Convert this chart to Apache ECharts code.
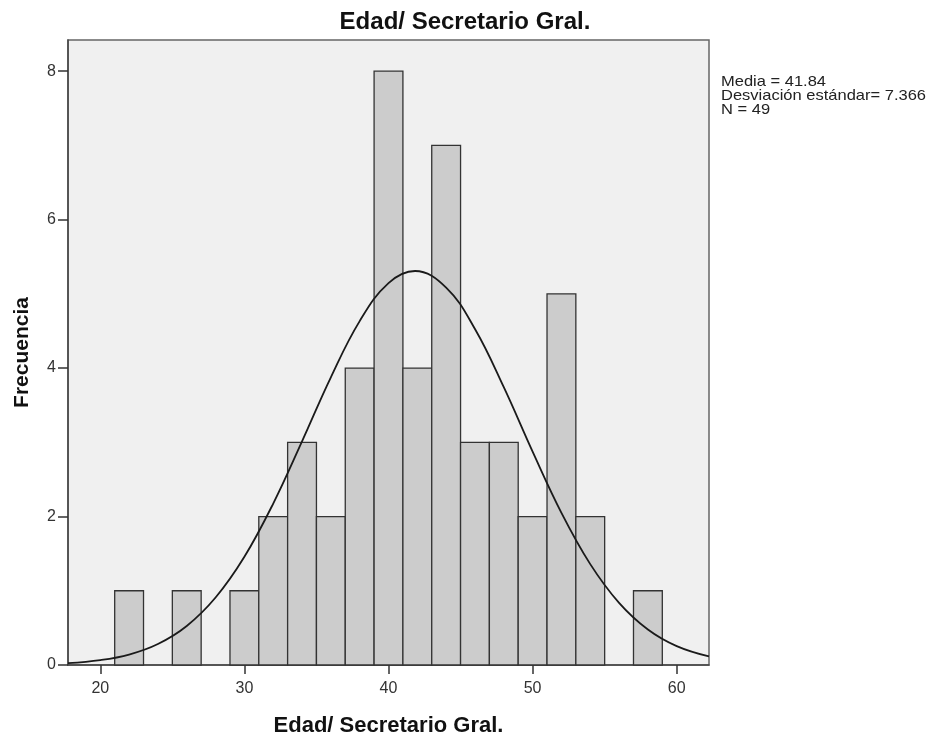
<!DOCTYPE html>
<html><head><meta charset="utf-8">
<script src="https://cdn.jsdelivr.net/npm/echarts@6/dist/echarts.min.js"></script>
<style>html,body{margin:0;padding:0;background:#fff}#c{width:930px;height:734px}</style>
</head><body><div id="c"></div>
<script>
// Histogram bins (start, end) and frequencies
var binStarts = [21, 25, 29, 31, 33, 35, 37, 39, 41, 43, 45, 47, 49, 51, 53, 57];
var binEnds   = [23, 27, 31, 33, 35, 37, 39, 41, 43, 45, 47, 49, 51, 53, 55, 59];
var counts    = [1, 1, 1, 2, 3, 2, 4, 8, 4, 7, 3, 3, 2, 5, 2, 1];
// Normal curve
var curveX = [17.76, 20, 22, 24, 26, 28, 30, 32, 34, 36, 38, 40, 41.84, 44, 46, 48, 50, 52, 54, 56, 58, 60, 62.24];
var curveY = [0.025, 0.066, 0.141, 0.283, 0.526, 0.909, 1.458, 2.175, 3.013, 3.876, 4.633, 5.145, 5.308, 5.085, 4.526, 3.742, 2.874, 2.050, 1.359, 0.837, 0.478, 0.254, 0.115];
var xTicks = [20, 30, 40, 50, 60];
var yTicks = [0, 2, 4, 6, 8];
var statsLines = ['Media = 41.84', 'Desviación estándar= 7.366', 'N = 49'];
var titleText = 'Edad/ Secretario Gral.';
var xName = 'Edad/ Secretario Gral.';
var yName = 'Frecuencia';

var barData = binStarts.map(function (s, i) { return [s, binEnds[i], counts[i]]; });
var lineData = curveX.map(function (x, i) { return [x, curveY[i]]; });

var chart = echarts.init(document.getElementById('c'), null, {renderer: 'canvas'});
var font = 'Arial, "Liberation Sans", sans-serif';
chart.setOption({
  animation: false,
  backgroundColor: '#ffffff',
  title: {
    text: titleText, left: 'center', top: 5,
    textStyle: {fontFamily: font, fontSize: 24, fontWeight: 'bold', color: '#111'}
  },
  grid: {
    left: 68, top: 40, right: 221, bottom: 69,
    containLabel: false, outerBoundsMode: 'none',
    show: true, backgroundColor: '#f0f0f0', borderColor: '#666', borderWidth: 1.5
  },
  xAxis: {
    type: 'value', min: 17.76, max: 62.24,
    name: xName, nameLocation: 'middle', nameGap: 50,
    nameTextStyle: {fontFamily: font, fontSize: 22, fontWeight: 'bold', color: '#111'},
    axisLine: {show: true, lineStyle: {color: '#444', width: 1.5}},
    axisTick: {show: true, length: 9, lineStyle: {color: '#333', width: 1.5}, customValues: xTicks},
    axisLabel: {fontFamily: font, fontSize: 16, color: '#333', margin: 16, customValues: xTicks},
    splitLine: {show: false}
  },
  yAxis: {
    type: 'value', min: 0, max: 8.42,
    name: yName, nameLocation: 'middle', nameGap: 35,
    nameTextStyle: {fontFamily: font, fontSize: 21, fontWeight: 'bold', color: '#111'},
    axisLine: {show: true, lineStyle: {color: '#444', width: 1.5}},
    axisTick: {show: true, length: 10, lineStyle: {color: '#333', width: 1.5}, customValues: yTicks},
    axisLabel: {fontFamily: font, fontSize: 16, color: '#333', margin: 12, customValues: yTicks},
    splitLine: {show: false}
  },
  series: [
    {
      type: 'custom',
      data: barData,
      encode: {x: [0, 1], y: 2},
      renderItem: function (params, api) {
        var p0 = api.coord([api.value(0), api.value(2)]);
        var p1 = api.coord([api.value(1), 0]);
        return {
          type: 'rect',
          shape: {x: p0[0], y: p0[1], width: p1[0] - p0[0], height: p1[1] - p0[1]},
          style: {fill: '#cccccc', stroke: '#333333', lineWidth: 1.3}
        };
      },
      z: 2
    },
    {
      type: 'line',
      data: lineData,
      smooth: 0.4,
      showSymbol: false,
      lineStyle: {color: '#1a1a1a', width: 1.8},
      z: 3
    }
  ],
  graphic: statsLines.map(function (t, i) {
    return {
      type: 'text', x: 721, y: 74 + i * 14, scaleX: 1.1,
      style: {text: t, fontFamily: font, fontSize: 15, fill: '#222'}
    };
  })
});
</script>
</body></html>
